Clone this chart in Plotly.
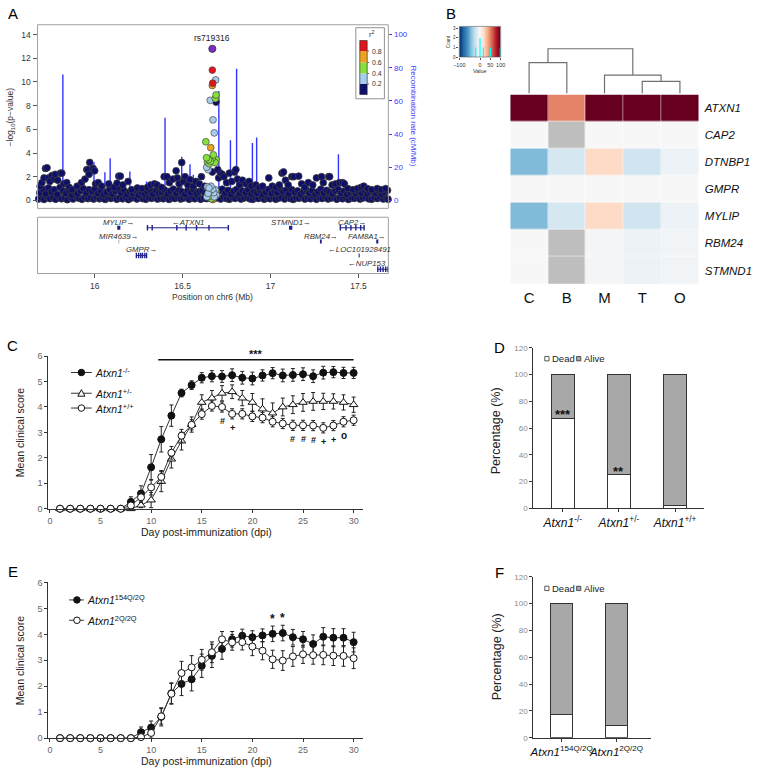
import plotly.graph_objects as go
import numpy as np

W, H = 757, 777
def PX(x): return x / W
def PY(y): return 1 - y / H

FONT = "Arial, Liberation Sans, sans-serif"

# ================= Panel A data =================
bg_pos_low = [15.681, 15.697, 15.712, 15.730, 15.745, 15.763, 15.778, 15.796, 15.811, 15.829, 15.844, 15.862, 15.877, 15.895,
              15.910, 15.928, 15.943, 15.961, 15.976, 15.994, 16.009, 16.027, 16.042, 16.060, 16.075, 16.093, 16.108, 16.126,
              16.141, 16.159, 16.174, 16.192, 16.207, 16.225, 16.240, 16.258, 16.273, 16.291, 16.306, 16.324, 16.339, 16.357,
              16.372, 16.390, 16.405, 16.423, 16.438, 16.456, 16.471, 16.489, 16.504, 16.522, 16.537, 16.555, 16.570, 16.588,
              16.603, 16.621, 16.637, 16.654, 16.671, 16.687, 16.700, 16.717, 16.733, 16.750, 16.766, 16.783, 16.799, 16.816,
              16.832, 16.849, 16.865, 16.882, 16.898, 16.915, 16.931, 16.948, 16.964, 16.981, 16.997, 17.014, 17.030, 17.047,
              17.063, 17.080, 17.096, 17.113, 17.129, 17.146, 17.162, 17.179, 17.195, 17.212, 17.228, 17.245, 17.261, 17.278,
              17.294, 17.311, 17.327, 17.344, 17.360, 17.377, 17.393, 17.410, 17.426, 17.443, 17.459, 17.476, 17.492, 17.509,
              17.525, 17.542, 17.558, 17.575, 17.591, 17.608, 17.624, 17.641, 17.657, 17.668]
bg_logp_low = [0.12, 0.25, 0.08, 0.30, 0.15, 0.22, 0.10, 0.28, 0.14, 0.20, 0.06, 0.25, 0.12, 0.30,
               0.18, 0.09, 0.26, 0.15, 0.22, 0.11, 0.27, 0.14, 0.20, 0.08, 0.24, 0.16, 0.29, 0.10,
               0.21, 0.13, 0.27, 0.07, 0.19, 0.25, 0.12, 0.30, 0.15, 0.09, 0.23, 0.17, 0.28, 0.11,
               0.20, 0.14, 0.26, 0.08, 0.22, 0.16, 0.29, 0.12, 0.19, 0.25, 0.10, 0.21, 0.14, 0.27,
               0.09, 0.18, 0.15, 0.25, 0.10, 0.20, 0.22, 0.12, 0.28, 0.15, 0.09, 0.24, 0.17, 0.30,
               0.11, 0.20, 0.26, 0.13, 0.08, 0.23, 0.16, 0.29, 0.10, 0.21, 0.14, 0.27, 0.09, 0.19,
               0.25, 0.12, 0.30, 0.15, 0.08, 0.22, 0.18, 0.27, 0.11, 0.20, 0.14, 0.26, 0.09, 0.23,
               0.16, 0.29, 0.12, 0.19, 0.25, 0.10, 0.21, 0.14, 0.28, 0.08, 0.22, 0.17, 0.30, 0.11,
               0.20, 0.26, 0.13, 0.09, 0.24, 0.16, 0.27, 0.12, 0.21, 0.10]
bg_pos_mid = [15.688, 15.704, 15.721, 15.737, 15.754, 15.770, 15.787, 15.803, 15.820, 15.836, 15.853, 15.869, 15.886, 15.902,
              15.919, 15.935, 15.952, 15.968, 15.985, 16.001, 16.018, 16.034, 16.051, 16.067, 16.084, 16.100, 16.117, 16.133,
              16.150, 16.166, 16.183, 16.199, 16.216, 16.232, 16.249, 16.265, 16.282, 16.298, 16.315, 16.331, 16.348, 16.364,
              16.381, 16.397, 16.414, 16.430, 16.447, 16.463, 16.480, 16.496, 16.513, 16.529, 16.546, 16.562, 16.579, 16.595,
              16.612, 16.628, 16.708, 16.725, 16.741, 16.758, 16.774, 16.791, 16.807, 16.824, 16.840, 16.857, 16.873, 16.890,
              16.906, 16.923, 16.939, 16.956, 16.972, 16.989, 17.005, 17.022, 17.038, 17.055, 17.071, 17.088, 17.104, 17.121,
              17.137, 17.154, 17.170, 17.187, 17.203, 17.220, 17.236, 17.253, 17.269, 17.286, 17.302, 17.319, 17.335, 17.352,
              17.368, 17.385, 17.401, 17.418, 17.434, 17.451, 17.467, 17.484, 17.500, 17.517, 17.533, 17.550, 17.566, 17.583,
              17.599, 17.616, 17.632, 17.649, 17.665]
bg_logp_mid = [0.65, 0.95, 0.55, 1.05, 0.72, 0.90, 0.50, 1.10, 0.80, 0.60, 0.85, 0.45, 0.70, 0.55,
               0.80, 1.00, 0.62, 0.90, 0.75, 0.95, 0.58, 0.80, 0.48, 0.70, 0.90, 0.55, 0.78, 0.95,
               0.62, 0.85, 0.50, 0.72, 0.60, 0.82, 0.45, 0.68, 0.55, 0.75, 0.90, 0.52, 0.80, 0.62,
               0.70, 0.88, 0.55, 0.78, 0.95, 0.60, 0.85, 0.72, 0.50, 0.82, 0.65, 0.90, 0.55, 0.75,
               0.85, 0.60, 0.80, 0.95, 0.62, 0.85, 0.50, 0.78, 0.92, 0.58, 0.80, 0.65, 0.90, 0.52,
               0.75, 0.60, 0.85, 0.48, 0.70, 0.92, 0.58, 0.80, 0.65, 0.95, 0.72, 0.85, 0.55, 0.90,
               0.68, 0.80, 0.52, 0.75, 0.88, 0.60, 0.82, 0.50, 0.72, 0.95, 0.62, 0.85, 0.70, 0.55,
               0.80, 0.92, 0.60, 0.78, 0.50, 0.68, 0.82, 0.58, 0.75, 0.62, 0.85, 0.55, 0.72, 0.80,
               0.60, 0.78, 0.52, 0.70, 0.85]
peak_pos = [15.690, 15.700, 15.712, 15.720, 15.729, 15.738, 15.745, 15.757, 15.770, 15.776, 15.790, 15.805, 15.813, 15.825,
            15.841, 15.855, 15.870, 15.900, 15.925, 15.945, 15.955, 15.962, 15.972, 15.968, 15.991, 16.000, 16.005, 16.020,
            16.040, 16.080, 16.110, 16.127, 16.137, 16.146, 16.160, 16.190, 16.210, 16.243, 16.270, 16.300, 16.318, 16.340,
            16.355, 16.380, 16.395, 16.411, 16.425, 16.445, 16.463, 16.470, 16.480, 16.495, 16.505, 16.514, 16.530, 16.542,
            16.560, 16.575, 16.595, 16.607, 16.625, 16.669, 16.690, 16.700, 16.705, 16.715, 16.725, 16.735, 16.750, 16.766,
            16.780, 16.795, 16.803, 16.812, 16.825, 16.840, 16.860, 16.878, 16.890, 16.916, 16.935, 16.955, 16.990, 17.010,
            17.030, 17.050, 17.065, 17.074, 17.085, 17.100, 17.121, 17.132, 17.160, 17.177, 17.195, 17.215, 17.240, 17.261,
            17.290, 17.300, 17.330, 17.336, 17.350, 17.370, 17.392, 17.410, 17.420, 17.440, 17.470, 17.495, 17.515, 17.530,
            17.551, 17.575, 17.607, 17.630, 17.655]
peak_logp = [1.2, 1.5, 1.9, 2.7, 2.75, 1.9, 1.6, 2.1, 1.8, 2.2, 1.7, 2.3, 2.3, 1.4,
             1.5, 1.1, 0.9, 1.2, 1.5, 1.8, 2.6, 2.6, 3.2, 2.2, 2.7, 2.5, 1.4, 1.5,
             1.2, 1.4, 1.1, 1.45, 2.05, 2.05, 1.3, 1.6, 0.9, 1.05, 1.0, 1.1, 1.3, 1.4,
             1.3, 1.1, 2.0, 2.0, 1.5, 1.8, 2.5, 1.9, 1.4, 3.2, 1.6, 2.0, 1.3, 1.75,
             1.2, 1.6, 1.4, 2.0, 1.2, 2.4, 8.3, 2.6, 1.9, 2.3, 2.2, 2.0, 1.5, 2.3,
             1.6, 2.4, 2.6, 1.8, 1.3, 1.7, 1.4, 1.6, 1.2, 1.3, 1.1, 1.2, 1.9, 1.2,
             1.1, 1.3, 2.3, 2.4, 1.7, 1.3, 2.0, 2.0, 2.05, 1.4, 1.1, 1.5, 1.3, 1.9,
             2.0, 1.5, 2.0, 2.0, 1.3, 1.4, 1.5, 1.5, 1.4, 1.0, 0.9, 1.0, 1.1, 1.2,
             1.0, 0.9, 1.0, 0.9, 1.0]
ld_pos = [16.669, 16.671, 16.688, 16.669, 16.690, 16.686, 16.657, 16.673, 16.680, 16.632, 16.660, 16.675, 16.636, 16.648,
          16.658, 16.668, 16.684, 16.652, 16.641, 16.690, 16.637, 16.645, 16.650, 16.640, 16.661, 16.671, 16.645, 16.656,
          16.677, 16.686, 16.638, 16.666, 16.680, 16.691, 16.652, 16.664, 16.690, 16.682, 16.662, 16.668, 16.672, 16.658]
ld_logp = [11.0, 9.9, 10.17, 9.7, 8.9, 8.6, 8.45, 6.8, 5.7, 4.95, 4.45, 3.85, 3.6, 3.45,
           3.3, 3.55, 3.2, 3.1, 3.25, 3.45, 2.8, 2.6, 1.05, 1.15, 1.2, 0.95, 0.6, 0.8,
           0.65, 0.9, 0.3, 0.7, 0.3, 0.45, 0.35, 0.15, 0.75, 0.5, 0.55, 0.3, 0.08, 0.4]
ld_r2 = [0.9, 0.9, 0.3, 0.7, 0.5, 0.5, 0.3, 0.3, 0.3, 0.5, 0.7, 0.5, 0.5, 0.5,
         0.5, 0.5, 0.5, 0.5, 0.5, 0.5, 0.3, 0.3, 0.3, 0.3, 0.3, 0.3, 0.3, 0.3,
         0.3, 0.3, 0.3, 0.3, 0.3, 0.3, 0.5, 0.5, 0.5, 0.5, 0.7, 0.7, 0.7, 0.7]
lead_snp = "rs719316"
lead_pos = 16.669
lead_logp = 12.8

recomb_pos = [15.819, 15.996, 16.058, 16.088, 16.200, 16.295, 16.400, 16.495, 16.542, 16.561,
              16.706, 16.772, 16.807, 16.897, 16.921, 17.386]
recomb_rate = [76.0, 23.0, 17.0, 25.4, 17.5, 11.5, 49.8, 26.4, 21.8, 15.5,
               66.0, 36.3, 79.4, 34.7, 37.9, 27.8]

gene_names = ["MYLIP", "ATXN1", "STMND1", "CAP2", "MIR4639", "RBM24", "FAM8A1", "GMPR", "LOC101928491", "NUP153"]
gene_start = [16.128, 16.299, 17.105, 17.397, 16.137, 17.281, 17.601, 16.237, 17.501, 17.607]
gene_end = [16.146, 16.762, 17.124, 17.532, 16.139, 17.291, 17.613, 16.295, 17.507, 17.672]
gene_strand = ["+", "-", "+", "+", "+", "+", "+", "+", "-", "-"]
gene_row = [1, 1, 1, 1, 2, 2, 2, 3, 3, 4]
gene_exons = [[], [16.300, 16.327, 16.467, 16.520, 16.579, 16.650, 16.760], [], [17.397, 17.429, 17.457, 17.485, 17.513, 17.532],
              [], [], [], [16.237, 16.250, 16.262, 16.272, 16.285, 16.295], [], [17.610, 17.625, 17.640, 17.655, 17.668]]

r2_breaks = [0.2, 0.4, 0.6, 0.8]
r2_colors = ["#0E0E6B", "#A6CDEE", "#86E03C", "#EEA21F", "#E0151B"]  # <0.2 ... >=0.8
lead_color = "#7D2DC6"

# ================= Panel B data =================
hm_cols = ["C", "B", "M", "T", "O"]
hm_genes = ["ATXN1", "CAP2", "DTNBP1", "GMPR", "MYLIP", "RBM24", "STMND1"]
hm_values = [[100, 50, 100, 100, 100],
             [0, None, 0, 0, 0],
             [-44, -18, 20, -20, -6],
             [0, 0, 0, 0, 0],
             [-44, -18, 20, -20, -6],
             [0, None, -2, -6, -3],
             [0, None, -2, -6, -3]]
# merges: (left node, right node, height); leaves 0..4, merge k creates node 5+k
dend_merges = [(3, 4, 12.0), (2, 5, 18.3), (0, 1, 31.0), (7, 6, 45.0)]
key_hist_vals = [-41, -21, 0, 16, 51, 98]
key_hist_counts = [1, 1, 2, 1, 1, 1]

# ================= Panel C data =================
days = list(range(1, 31))
ko_mean = [0, 0, 0, 0, 0, 0, 0, 0.27, 0.60, 1.63, 2.73, 3.66, 4.55, 4.86, 5.15, 5.21, 5.20, 5.25, 5.15, 5.12,
           5.24, 5.33, 5.24, 5.26, 5.29, 5.21, 5.35, 5.37, 5.34, 5.34]
ko_se = [0, 0, 0, 0, 0, 0, 0, 0.20, 0.30, 0.50, 0.50, 0.42, 0.15, 0.17, 0.20, 0.22, 0.23, 0.25, 0.25, 0.25,
         0.22, 0.22, 0.25, 0.25, 0.25, 0.25, 0.25, 0.22, 0.22, 0.22]
het_mean = [0, 0, 0, 0, 0, 0, 0, 0, 0.14, 0.34, 1.07, 1.95, 2.66, 3.31, 4.18, 4.35, 4.54, 4.60, 4.35, 4.18,
            3.92, 3.76, 4.00, 4.09, 4.18, 4.22, 4.22, 4.22, 4.18, 4.09]
het_se = [0, 0, 0, 0, 0, 0, 0, 0, 0.10, 0.30, 0.40, 0.35, 0.35, 0.30, 0.30, 0.30, 0.30, 0.27, 0.30, 0.35,
          0.40, 0.40, 0.35, 0.35, 0.35, 0.35, 0.32, 0.30, 0.30, 0.30]
wt_mean = [0, 0, 0, 0, 0, 0, 0, 0.13, 0.45, 0.84, 1.25, 2.20, 2.87, 3.30, 3.72, 4.04, 4.00, 3.73, 3.73, 3.63,
           3.58, 3.42, 3.35, 3.28, 3.28, 3.27, 3.18, 3.27, 3.42, 3.48]
wt_se = [0, 0, 0, 0, 0, 0, 0, 0.10, 0.20, 0.30, 0.25, 0.25, 0.25, 0.20, 0.20, 0.20, 0.20, 0.20, 0.20, 0.20,
         0.20, 0.20, 0.20, 0.20, 0.20, 0.20, 0.20, 0.20, 0.20, 0.20]
c_sig_bar = (10.7, 30.0, "***")
c_sig_days = [17, 18, 24, 25, 26, 27, 28, 29]
c_sig_marks = ["#", "+", "#", "#", "#", "+", "+", "o"]

# ================= Panel D data =================
d_groups = ["<i>Atxn1</i><sup>-/-</sup>", "<i>Atxn1</i><sup>+/-</sup>", "<i>Atxn1</i><sup>+/+</sup>"]
d_dead = [67.5, 25.0, 2.0]
d_alive = [32.5, 75.0, 98.0]
d_sig = ["***", "**", ""]

# ================= Panel E data =================
q154_mean = [0, 0, 0, 0, 0, 0, 0, 0, 0.23, 0.41, 0.82, 1.73, 2.09, 2.27, 2.79, 3.17, 3.44, 3.81, 3.95, 3.89,
             3.96, 4.02, 4.05, 3.89, 3.81, 3.63, 3.91, 3.87, 3.87, 3.70]
q154_se = [0, 0, 0, 0, 0, 0, 0, 0, 0.20, 0.25, 0.35, 0.40, 0.45, 0.45, 0.45, 0.45, 0.40, 0.30, 0.25, 0.25,
           0.25, 0.30, 0.30, 0.30, 0.30, 0.35, 0.35, 0.35, 0.35, 0.38]
q2_mean = [0, 0, 0, 0, 0, 0, 0, 0, 0.04, 0.20, 0.84, 1.71, 2.51, 2.73, 3.02, 3.31, 3.81, 3.69, 3.70, 3.53,
           3.37, 3.04, 2.99, 3.15, 3.23, 3.20, 3.21, 3.18, 3.17, 3.08]
q2_se = [0, 0, 0, 0, 0, 0, 0, 0, 0.05, 0.20, 0.30, 0.40, 0.45, 0.45, 0.40, 0.40, 0.30, 0.30, 0.30, 0.35,
         0.35, 0.35, 0.38, 0.38, 0.35, 0.35, 0.38, 0.38, 0.40, 0.40]
e_sig_days = [22, 23]
e_sig_marks = ["*", "*"]

# ================= Panel F data =================
f_groups = ["<i>Atxn1</i><sup>154Q/2Q</sup>", "<i>Atxn1</i><sup>2Q/2Q</sup>"]
f_dead = [17.0, 9.5]
f_alive = [83.0, 90.5]

# ================= build figure =================
fig = go.Figure()
shapes = []
annots = []

def note(**kw):
    kw.setdefault("showarrow", False)
    kw.setdefault("xanchor", "center")
    kw.setdefault("yanchor", "middle")
    annots.append(kw)

def r2_color(r):
    c = r2_colors[0]
    for b, col in zip(r2_breaks, r2_colors[1:]):
        if r >= b:
            c = col
    return c

# ---- A: recombination spikes (behind) ----
rx, ry = [], []
for p, r in zip(recomb_pos, recomb_rate):
    rx += [p, p, None]
    ry += [0, r, None]
fig.add_trace(go.Scatter(x=rx, y=ry, mode="lines", line=dict(color="#3434FF", width=1.4),
                         xaxis="x", yaxis="y", hoverinfo="skip", showlegend=False))
# ---- A: SNPs ----
fig.add_trace(go.Scatter(x=bg_pos_low + bg_pos_mid + peak_pos, y=bg_logp_low + bg_logp_mid + peak_logp,
                         mode="markers", xaxis="x", yaxis="y2", showlegend=False, cliponaxis=False,
                         marker=dict(size=6.8, color=r2_colors[0], line=dict(color="#3C3C3C", width=0.8))))
fig.add_trace(go.Scatter(x=ld_pos[::-1], y=ld_logp[::-1], mode="markers", xaxis="x", yaxis="y2", showlegend=False,
                         marker=dict(size=6.8, color=[r2_color(r) for r in ld_r2[::-1]],
                                     line=dict(color="#4A4A4A", width=0.7))))
fig.add_trace(go.Scatter(x=[lead_pos], y=[lead_logp], mode="markers", xaxis="x", yaxis="y2", showlegend=False,
                         marker=dict(size=7.2, color=lead_color, line=dict(color="#333", width=0.8))))
note(x=lead_pos, y=lead_logp, xref="x", yref="y2", text=lead_snp, yshift=11, font=dict(size=8.5, color="#222"))

# frames
shapes.append(dict(type="rect", xref="x domain", yref="y domain", x0=0, x1=1, y0=0, y1=1,
                   line=dict(color="#A0A0A0", width=1)))
shapes.append(dict(type="rect", xref="x2 domain", yref="y3 domain", x0=0, x1=1, y0=0, y1=1,
                   line=dict(color="#A0A0A0", width=1)))

# r2 key
shapes.append(dict(type="rect", xref="paper", yref="paper", x0=PX(355), x1=PX(384), y0=PY(95), y1=PY(23),
                   line=dict(color="#777", width=0.8), fillcolor="white"))
key_edges = [90.7, 80.0, 69.3, 58.3, 46.7, 36.0]
for i, col in enumerate(r2_colors):
    shapes.append(dict(type="rect", xref="paper", yref="paper", x0=PX(359), x1=PX(366.5),
                       y0=PY(key_edges[i]), y1=PY(key_edges[i + 1]), line=dict(width=0), fillcolor=col))
shapes.append(dict(type="rect", xref="paper", yref="paper", x0=PX(359), x1=PX(366.5), y0=PY(90.7), y1=PY(36),
                   line=dict(color="#333", width=0.7)))
for i, b in enumerate(r2_breaks):
    yy = key_edges[i + 1]
    shapes.append(dict(type="line", xref="paper", yref="paper", x0=PX(366.5), x1=PX(368.5), y0=PY(yy), y1=PY(yy),
                       line=dict(color="#333", width=0.7)))
    note(x=PX(369), y=PY(yy), xref="paper", yref="paper", text=f"{b:.1f}", xanchor="left",
         font=dict(size=7, color="#333"))
note(x=PX(371), y=PY(29), xref="paper", yref="paper", text="r<sup>2</sup>", font=dict(size=7.5, color="#333"))

# ---- A: genes ----
navy = "#20208C"
xmaxA = 17.67
for name, s, e, strand, row, exons in zip(gene_names, gene_start, gene_end, gene_strand, gene_row, gene_exons):
    thick = 4 if (e - s) < 0.03 else 1
    fig.add_trace(go.Scatter(x=[s, e], y=[row, row], mode="lines", line=dict(color=navy, width=thick),
                             xaxis="x2", yaxis="y3", showlegend=False, hoverinfo="skip"))
    if exons:
        fig.add_trace(go.Scatter(x=exons, y=[row] * len(exons), mode="markers", xaxis="x2", yaxis="y3",
                                 marker=dict(symbol="line-ns-open", size=4, color=navy,
                                             line=dict(color=navy, width=1.4)),
                                 showlegend=False, hoverinfo="skip"))
    label = f"<i>{name}</i>→" if strand == "+" else f"←<i>{name}</i>"
    mid = (s + e) / 2
    hw = (len(name) + 1) * 4.3 / 2 / 178.4
    if mid + hw > xmaxA - 0.004:
        lx, anc = xmaxA - 0.004, "right"
    else:
        lx, anc = mid, "center"
    note(x=lx, y=row - 0.4, xref="x2", yref="y3", text=label, xanchor=anc, font=dict(size=7.8, color="#333"))

# A titles
note(x=PX(5), y=PY(113), xref="paper", yref="paper", text="−log<sub>10</sub>(p−value)", textangle=-90,
     font=dict(size=8.5, color="#333"))
note(x=PX(413), y=PY(113), xref="paper", yref="paper", text="Recombination rate (cM/Mb)", textangle=90,
     font=dict(size=8, color="#3C3CFF"))
note(x=PX(210), y=PY(296), xref="paper", yref="paper", text="Position on chr6 (Mb)", font=dict(size=8.5, color="#333"))

# ---- B: heatmap ----
RDBU = [[0, "#053061"], [0.1, "#2166AC"], [0.2, "#4393C3"], [0.3, "#92C5DE"], [0.4, "#D1E5F0"],
        [0.5, "#F7F7F7"], [0.6, "#FDDBC7"], [0.7, "#F4A582"], [0.8, "#D6604D"], [0.9, "#B2182B"], [1, "#67001F"]]
fig.add_trace(go.Heatmap(z=hm_values, x=list(range(len(hm_cols))), y=list(range(len(hm_genes))),
                         colorscale=RDBU, zmin=-100, zmax=100, showscale=False, xaxis="x3", yaxis="y4",
                         hoverongaps=False, xgap=0.5, ygap=0.5))
z_nan = [[1 if v is None else None for v in row] for row in hm_values]
fig.add_trace(go.Heatmap(z=z_nan, x=list(range(len(hm_cols))), y=list(range(len(hm_genes))),
                         colorscale=[[0, "#BEBEBE"], [1, "#BEBEBE"]], showscale=False, xaxis="x3", yaxis="y4",
                         hoverongaps=False, xgap=0.5, ygap=0.5))

# dendrogram
node_x = {i: float(i) for i in range(len(hm_cols))}
node_h = {i: 0.0 for i in range(len(hm_cols))}
dx, dy = [], []
for k, (a, b, h) in enumerate(dend_merges):
    dx += [node_x[a], node_x[a], node_x[b], node_x[b], None]
    dy += [node_h[a], h, h, node_h[b], None]
    nid = len(hm_cols) + k
    node_x[nid] = (node_x[a] + node_x[b]) / 2
    node_h[nid] = h
fig.add_trace(go.Scatter(x=dx, y=dy, mode="lines", line=dict(color="#707070", width=1.2),
                         xaxis="x4", yaxis="y5", showlegend=False, hoverinfo="skip"))

# color key
edges = np.linspace(-100, 100, 101)
mids = (edges[:-1] + edges[1:]) / 2
fig.add_trace(go.Heatmap(z=[list(mids)], x=list(edges), y=[0, 3.2], colorscale=RDBU, zmin=-100, zmax=100,
                         showscale=False, xaxis="x5", yaxis="y6", hoverinfo="skip"))
hx, hy = [], []
for v, c in zip(key_hist_vals, key_hist_counts):
    hx += [v, v, None]
    hy += [0, c, None]
fig.add_trace(go.Scatter(x=hx, y=hy, mode="lines", line=dict(color="#00FFFF", width=1.2),
                         xaxis="x5", yaxis="y6", showlegend=False, hoverinfo="skip"))
shapes.append(dict(type="rect", xref="x5 domain", yref="y6 domain", x0=0, x1=1, y0=0, y1=1,
                   line=dict(color="#555", width=0.6)))
note(x=PX(481), y=PY(67), xref="paper", yref="paper", text="Value", font=dict(size=5.5, color="#333"))
note(x=PX(449), y=PY(37), xref="paper", yref="paper", text="Count", textangle=-90, font=dict(size=4.5, color="#333"))

# ---- C ----
line_col = "#333333"
def curve(x, y, se, xa, ya, symbol, fill):
    return go.Scatter(x=x, y=y, mode="lines+markers", xaxis=xa, yaxis=ya, showlegend=False, cliponaxis=False,
                      line=dict(color=line_col, width=1),
                      marker=dict(symbol=symbol, size=7 if symbol == "circle" else 7.5, color=fill,
                                  line=dict(color="#111", width=1)),
                      error_y=dict(type="data", array=se, color="#222", thickness=1, width=2))
fig.add_trace(curve(days, ko_mean, ko_se, "x6", "y7", "circle", "#111"))
fig.add_trace(curve(days, het_mean, het_se, "x6", "y7", "triangle-up", "white"))
fig.add_trace(curve(days, wt_mean, wt_se, "x6", "y7", "circle", "white"))

shapes.append(dict(type="line", xref="x6", yref="y7", x0=c_sig_bar[0], x1=c_sig_bar[1], y0=5.86, y1=5.86,
                   line=dict(color="#111", width=1.6)))
note(x=(c_sig_bar[0] + c_sig_bar[1]) / 2, y=5.86, xref="x6", yref="y7", text="<b>***</b>",
     yanchor="bottom", yshift=-2, font=dict(size=11, color="#111"))
for d, m in zip(c_sig_days, c_sig_marks):
    note(x=d, y=wt_mean[days.index(d)], xref="x6", yref="y7", text=f"<b>{m}</b>",
         yshift=-14, font=dict(size=9 if m != "o" else 10, color="#111"))

def legend_entry(xl, xr, xm, yc, symbol, fill, text, fsize):
    shapes.append(dict(type="line", xref="paper", yref="paper", x0=PX(xl), x1=PX(xr), y0=PY(yc), y1=PY(yc),
                       line=dict(color=line_col, width=1)))
    r = 3.3
    if symbol == "circle":
        shapes.append(dict(type="circle", xref="paper", yref="paper", x0=PX(xm - r), x1=PX(xm + r),
                           y0=PY(yc + r), y1=PY(yc - r), fillcolor=fill, line=dict(color="#111", width=1)))
    else:
        path = f"M {PX(xm - 3.6)},{PY(yc + 3)} L {PX(xm + 3.6)},{PY(yc + 3)} L {PX(xm)},{PY(yc - 3.6)} Z"
        shapes.append(dict(type="path", xref="paper", yref="paper", path=path, fillcolor=fill,
                           line=dict(color="#111", width=1)))
    note(x=PX(xr + 1), y=PY(yc), xref="paper", yref="paper", text=text, xanchor="left",
         font=dict(size=fsize, color="#111"))

legend_entry(66, 87, 76.5, 372.3, "circle", "#111", "<i>Atxn1</i><sup>-/-</sup>", 10.5)
legend_entry(66, 87, 76.5, 393.3, "triangle", "white", "<i>Atxn1</i><sup>+/-</sup>", 10.5)
legend_entry(66, 87, 76.5, 408.3, "circle", "white", "<i>Atxn1</i><sup>+/+</sup>", 10.5)

note(x=PX(15), y=PY(433), xref="paper", yref="paper", text="Mean clinical score", textangle=-90,
     font=dict(size=10.5, color="#222"))
note(x=PX(203), y=PY(534), xref="paper", yref="paper", text="Day post-immunization (dpi)",
     font=dict(size=10.5, color="#222"))

# ---- E ----
fig.add_trace(curve(days, q154_mean, q154_se, "x8", "y9", "circle", "#111"))
fig.add_trace(curve(days, q2_mean, q2_se, "x8", "y9", "circle", "white"))
for d, m in zip(e_sig_days, e_sig_marks):
    note(x=d, y=q154_mean[days.index(d)], xref="x8", yref="y9", text=f"<b>{m}</b>",
         yshift=15, font=dict(size=12, color="#111"))
legend_entry(64, 79, 72, 602.7, "circle", "#111", "<i>Atxn1</i><sup>154Q/2Q</sup>", 10.5)
legend_entry(64, 79, 72, 623.3, "circle", "white", "<i>Atxn1</i><sup>2Q/2Q</sup>", 10.5)
note(x=PX(15), y=PY(664), xref="paper", yref="paper", text="Mean clinical score", textangle=-90,
     font=dict(size=10.5, color="#222"))
note(x=PX(203), y=PY(765.5), xref="paper", yref="paper", text="Day post-immunization (dpi)",
     font=dict(size=10.5, color="#222"))

# ---- D / F bars ----
def bars(dead, alive, xa, ya):
    xs = list(range(len(dead)))
    fig.add_trace(go.Bar(x=xs, y=dead, width=0.4, xaxis=xa, yaxis=ya, showlegend=False,
                         marker=dict(color="white", line=dict(color="#333", width=1))))
    fig.add_trace(go.Bar(x=xs, y=alive, width=0.4, xaxis=xa, yaxis=ya, showlegend=False,
                         marker=dict(color="#A8A8A8", line=dict(color="#333", width=1))))
bars(d_dead, d_alive, "x7", "y8")
bars(f_dead, f_alive, "x9", "y10")
for i, (v, s) in enumerate(zip(d_dead, d_sig)):
    if s:
        note(x=i, y=v, xref="x7", yref="y8", text=f"<b>{s}</b>", yanchor="bottom", yshift=-6,
             font=dict(size=13, color="#111"))

def bar_legend(yc):
    shapes.append(dict(type="rect", xref="paper", yref="paper", x0=PX(546.7), x1=PX(551), y0=PY(yc + 2.2),
                       y1=PY(yc - 2.2), fillcolor="white", line=dict(color="#333", width=0.8)))
    note(x=PX(552), y=PY(yc), xref="paper", yref="paper", text="Dead", xanchor="left",
         font=dict(size=9.5, color="#222"))
    shapes.append(dict(type="rect", xref="paper", yref="paper", x0=PX(579), x1=PX(583.3), y0=PY(yc + 2.2),
                       y1=PY(yc - 2.2), fillcolor="#A8A8A8", line=dict(color="#333", width=0.8)))
    note(x=PX(584.3), y=PY(yc), xref="paper", yref="paper", text="Alive", xanchor="left",
         font=dict(size=9.5, color="#222"))
bar_legend(358.3)
bar_legend(591)
note(x=PX(498), y=PY(431), xref="paper", yref="paper", text="Percentage (%)", textangle=-90,
     font=dict(size=12.5, color="#222"))
note(x=PX(498), y=PY(660), xref="paper", yref="paper", text="Percentage (%)", textangle=-90,
     font=dict(size=12.5, color="#222"))

# panel letters
for letter, x, y in [("A", 7, 9), ("B", 452, 9), ("C", 7, 345), ("D", 501, 347), ("E", 7, 574), ("F", 501, 575)]:
    note(x=PX(x), y=PY(y), xref="paper", yref="paper", text=letter, font=dict(size=15, color="#000"))

# ================= layout =================
ax_common = dict(showgrid=False, zeroline=False)
tick_gray = dict(size=9, color="#666")
lay = dict(
    width=W, height=H, autosize=False, margin=dict(l=0, r=0, t=0, b=0),
    paper_bgcolor="white", plot_bgcolor="rgba(0,0,0,0)", font=dict(family=FONT),
    barmode="stack", showlegend=False,
    # A
    xaxis=dict(domain=[PX(32), PX(388)], range=[15.675, 17.67], anchor="y", showticklabels=False, ticks="", **ax_common),
    yaxis=dict(domain=[PY(206), PY(20)], range=[-4.76, 105.95], anchor="x", side="right",
               tickvals=[0, 20, 40, 60, 80, 100], ticks="outside", ticklen=3, tickcolor="#3C3CFF",
               tickfont=dict(size=8, color="#3C3CFF"), **ax_common),
    yaxis2=dict(overlaying="y", anchor="x", side="left", range=[-0.67, 14.83], tickvals=list(range(0, 15, 2)),
                ticks="outside", ticklen=4, tickcolor="#555", tickfont=dict(size=8.5, color="#333"), **ax_common),
    xaxis2=dict(domain=[PX(32), PX(388)], range=[15.675, 17.67], anchor="y3", tickvals=[16, 16.5, 17, 17.5],
                ticktext=["16", "16.5", "17", "17.5"], ticks="outside", ticklen=4, tickcolor="#555",
                tickfont=dict(size=8.5, color="#333"), **ax_common),
    yaxis3=dict(domain=[PY(272), PY(215)], range=[4.307, 0.236], anchor="x2", visible=False, **ax_common),
    # B heatmap
    xaxis3=dict(domain=[PX(511.7), PX(703)], range=[-0.5, 4.5], anchor="y4", tickvals=list(range(5)),
                ticktext=hm_cols, ticks="", tickfont=dict(size=15, color="#111"), ticklabelstandoff=3, **ax_common),
    yaxis4=dict(domain=[PY(282.7), PY(90.7)], range=[6.5, -0.5], anchor="x3", side="right",
                tickvals=list(range(7)), ticktext=[f"<i>{g}</i>" for g in hm_genes], ticks="",
                tickfont=dict(size=11.5, color="#111"), ticklabelstandoff=5, **ax_common),
    xaxis4=dict(domain=[PX(511.7), PX(703)], range=[-0.5, 4.5], anchor="y5", visible=False, **ax_common),
    yaxis5=dict(domain=[PY(90.7), PY(43.3)], range=[-1.4, 46], anchor="x4", visible=False, **ax_common),
    xaxis5=dict(domain=[PX(460), PX(502)], range=[-100, 100], anchor="y6", tickvals=[-100, 0, 50, 100],
                ticks="outside", ticklen=2, tickcolor="#555", tickfont=dict(size=5.5, color="#333"), **ax_common),
    yaxis6=dict(domain=[PY(52.7), PY(21.7)], range=[0, 3.2], anchor="x5", tickvals=[0, 1, 2, 3],
                ticks="outside", ticklen=2, tickcolor="#555", tickfont=dict(size=4.5, color="#333"), **ax_common),
    # C
    xaxis6=dict(domain=[PX(43), PX(362)], range=[-0.15, 30.9], anchor="y7", tickvals=list(range(0, 31, 5)),
                showline=True, linecolor="#333", linewidth=1, ticks="outside", ticklen=3, tickcolor="#333",
                tickfont=tick_gray, **ax_common),
    yaxis7=dict(domain=[PY(510.3), PY(355.7)], range=[0, 6], anchor="x6", tickvals=list(range(7)),
                showline=True, linecolor="#333", linewidth=1, ticks="outside", ticklen=3, tickcolor="#333",
                tickfont=tick_gray, **ax_common),
    # D
    xaxis7=dict(domain=[PX(535), PX(708)], range=[-0.526, 2.509], anchor="y8", tickvals=[0, 1, 2], ticktext=d_groups,
                showline=True, linecolor="#333", linewidth=1, ticks="outside", ticklen=3, tickcolor="#333",
                tickangle=0, tickfont=dict(size=12, color="#111"), **ax_common),
    yaxis8=dict(domain=[PY(510), PY(347.3)], range=[0, 120], anchor="x7", tickvals=list(range(0, 121, 20)),
                showline=True, linecolor="#333", linewidth=1, ticks="outside", ticklen=3, tickcolor="#333",
                tickfont=dict(size=8, color="#8A8A8A"), **ax_common),
    # E
    xaxis8=dict(domain=[PX(43), PX(362)], range=[-0.15, 30.9], anchor="y9", tickvals=list(range(0, 31, 5)),
                showline=True, linecolor="#333", linewidth=1, ticks="outside", ticklen=3, tickcolor="#333",
                tickfont=tick_gray, **ax_common),
    yaxis9=dict(domain=[PY(742.7), PY(585)], range=[0, 6], anchor="x8", tickvals=list(range(7)),
                showline=True, linecolor="#333", linewidth=1, ticks="outside", ticklen=3, tickcolor="#333",
                tickfont=tick_gray, **ax_common),
    # F
    xaxis9=dict(domain=[PX(535), PX(655)], range=[-0.517, 1.637], anchor="y10", tickvals=[0, 1], ticktext=f_groups,
                showline=True, linecolor="#333", linewidth=1, ticks="outside", ticklen=3, tickcolor="#333",
                tickangle=0, tickfont=dict(size=11.5, color="#111"), **ax_common),
    yaxis10=dict(domain=[PY(742.3), PY(579.3)], range=[0, 120], anchor="x9", tickvals=list(range(0, 121, 20)),
                 showline=True, linecolor="#333", linewidth=1, ticks="outside", ticklen=3, tickcolor="#333",
                 tickfont=dict(size=8, color="#8A8A8A"), **ax_common),
    shapes=shapes, annotations=annots,
)
fig.update_layout(**lay)
fig.write_html("out.html", config={"displayModeBar": False},
               post_script="document.body.style.margin='0px';")
